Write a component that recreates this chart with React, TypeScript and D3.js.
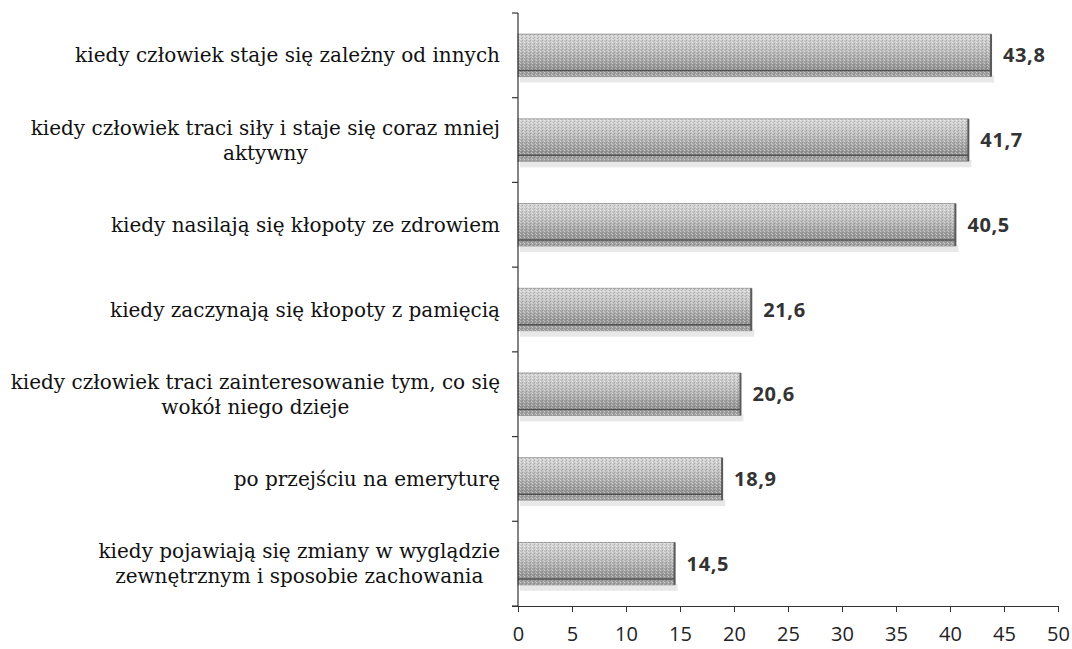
import React, { useRef, useEffect } from 'react';
import * as d3 from 'd3';

// categories top to bottom, each line of the label as its own entry
const categories: string[][] = [
    ['kiedy człowiek staje się zależny od innych'],
    ['kiedy człowiek traci siły i staje się coraz mniej', 'aktywny'],
    ['kiedy nasilają się kłopoty ze zdrowiem'],
    ['kiedy zaczynają się kłopoty z pamięcią'],
    ['kiedy człowiek traci zainteresowanie tym, co się', 'wokół niego dzieje'],
    ['po przejściu na emeryturę'],
    ['kiedy pojawiają się zmiany w wyglądzie', 'zewnętrznym i sposobie zachowania'],
];
const values: number[] = [43.8, 41.7, 40.5, 21.6, 20.6, 18.9, 14.5];
const xTicks: number[] = [0, 5, 10, 15, 20, 25, 30, 35, 40, 45, 50];

const W = 1072;
const H = 649;

const App: React.FC = () => {
    const svgRef = useRef<SVGSVGElement | null>(null);

    useEffect(() => {
        const svg = d3.select(svgRef.current);
        svg.selectAll('*').remove();

        const margin = { top: 13, right: 14, bottom: 43, left: 518 };
        const x = d3.scaleLinear().domain([0, 50]).range([margin.left, W - margin.right]);
        const y = d3.scaleBand<number>()
            .domain(d3.range(categories.length))
            .range([margin.top, H - margin.bottom])
            .paddingInner(0.5)
            .paddingOuter(0.25);

        // bar texture
        const defs = svg.append('defs');
        const grad = defs.append('linearGradient')
            .attr('id', 'barGrad')
            .attr('x1', 0).attr('y1', 0).attr('x2', 0).attr('y2', 1);
        grad.append('stop').attr('offset', '0%').attr('stop-color', '#d8d8d8');
        grad.append('stop').attr('offset', '40%').attr('stop-color', '#bcbcbc');
        grad.append('stop').attr('offset', '78%').attr('stop-color', '#959595');
        grad.append('stop').attr('offset', '100%').attr('stop-color', '#a4a4a4');

        const pat = defs.append('pattern')
            .attr('id', 'dither')
            .attr('width', 4).attr('height', 3)
            .attr('patternUnits', 'userSpaceOnUse');
        pat.append('rect').attr('x', 0).attr('y', 0).attr('width', 1).attr('height', 1).attr('fill', '#fff').attr('opacity', 0.45);
        pat.append('rect').attr('x', 2).attr('y', 1).attr('width', 1).attr('height', 1).attr('fill', '#555').attr('opacity', 0.3);
        pat.append('rect').attr('x', 3).attr('y', 2).attr('width', 1).attr('height', 1).attr('fill', '#fff').attr('opacity', 0.35);
        pat.append('rect').attr('x', 1).attr('y', 2).attr('width', 1).attr('height', 1).attr('fill', '#666').attr('opacity', 0.25);

        const bh = y.bandwidth();

        // shadows under bars
        svg.append('g')
            .selectAll('rect')
            .data(values)
            .enter()
            .append('rect')
            .attr('x', x(0) + 2)
            .attr('y', (d, i) => (y(i) as number) + bh - 1)
            .attr('width', d => x(d) - x(0) + 1)
            .attr('height', 7)
            .attr('fill', '#e8e8e8');

        const bars = svg.append('g');
        bars.selectAll('rect.bar')
            .data(values)
            .enter()
            .append('rect')
            .attr('class', 'bar')
            .attr('x', x(0))
            .attr('y', (d, i) => y(i) as number)
            .attr('width', d => x(d) - x(0))
            .attr('height', bh)
            .attr('fill', 'url(#barGrad)')
            .attr('stroke', '#999')
            .attr('stroke-width', 1);
        bars.selectAll('rect.tex')
            .data(values)
            .enter()
            .append('rect')
            .attr('class', 'tex')
            .attr('x', x(0))
            .attr('y', (d, i) => y(i) as number)
            .attr('width', d => x(d) - x(0))
            .attr('height', bh)
            .attr('fill', 'url(#dither)');
        // dark bottom line
        bars.selectAll('line.low')
            .data(values)
            .enter()
            .append('line')
            .attr('x1', x(0))
            .attr('x2', d => x(d))
            .attr('y1', (d, i) => (y(i) as number) + bh * 0.86)
            .attr('y2', (d, i) => (y(i) as number) + bh * 0.86)
            .attr('stroke', '#505050')
            .attr('stroke-width', 1.5);
        // darker right edge
        bars.selectAll('line.edge')
            .data(values)
            .enter()
            .append('line')
            .attr('x1', d => x(d))
            .attr('x2', d => x(d))
            .attr('y1', (d, i) => y(i) as number)
            .attr('y2', (d, i) => (y(i) as number) + bh)
            .attr('stroke', '#5a5a5a')
            .attr('stroke-width', 2);

        // value labels
        svg.append('g')
            .selectAll('text')
            .data(values)
            .enter()
            .append('text')
            .attr('x', d => x(d) + 12)
            .attr('y', (d, i) => (y(i) as number) + bh / 2)
            .attr('dy', '0.35em')
            .attr('font-family', 'Open Sans, Liberation Sans, sans-serif')
            .attr('font-weight', 'bold')
            .attr('font-size', 20)
            .attr('letter-spacing', '0.6px')
            .attr('fill', '#333')
            .text(d => d3.format('.1f')(d).replace('.', ','));

        // y axis line and category boundary ticks
        const axisG = svg.append('g').attr('stroke', '#333').attr('stroke-width', 1.2);
        axisG.append('line')
            .attr('x1', x(0)).attr('x2', x(0))
            .attr('y1', margin.top).attr('y2', H - margin.bottom);
        const bounds = d3.range(categories.length + 1).map(i => margin.top + i * (H - margin.top - margin.bottom) / categories.length);
        axisG.selectAll('line.yt')
            .data(bounds)
            .enter()
            .append('line')
            .attr('class', 'yt')
            .attr('x1', x(0) - 6).attr('x2', x(0))
            .attr('y1', d => d).attr('y2', d => d);

        // x axis
        const xAxis = svg.append('g')
            .attr('transform', `translate(0,${H - margin.bottom})`)
            .call(d3.axisBottom(x).tickValues(xTicks).tickSize(6).tickSizeOuter(0));
        xAxis.select('.domain').attr('stroke', '#333').attr('stroke-width', 1.2).attr('d', `M${x(0) - 6},0.5H${x(50)}`);
        xAxis.selectAll('.tick line').attr('stroke', '#333');
        xAxis.selectAll('.tick text')
            .attr('y', 21)
            .attr('dy', '0.71em')
            .attr('fill', '#222')
            .attr('font-family', 'Open Sans, Liberation Sans, sans-serif')
            .attr('font-size', 20);

        // category labels: block right-aligned, lines centred within block
        const labelRight = 500;
        const lineH = 25;
        categories.forEach((lines, i) => {
            const g = svg.append('g');
            const cy = (y(i) as number) + bh / 2;
            const texts = g.selectAll('text')
                .data(lines)
                .enter()
                .append('text')
                .attr('y', (d, j) => cy + (j - (lines.length - 1) / 2) * lineH)
                .attr('dy', '0.35em')
                .attr('text-anchor', 'middle')
                .attr('font-family', 'DejaVu Serif, Liberation Serif, serif')
                .attr('font-size', 20)
                .attr('fill', '#111')
                .text(d => d);
            let maxW = 0;
            texts.each(function () {
                maxW = Math.max(maxW, (this as SVGTextElement).getComputedTextLength());
            });
            texts.attr('x', labelRight - maxW / 2);
        });
    }, []);

    return (
        <svg
            ref={svgRef}
            width={W}
            height={H}
            style={{ position: 'absolute', left: 0, top: 0, background: '#fff' }}
        ></svg>
    );
};

export default App;
